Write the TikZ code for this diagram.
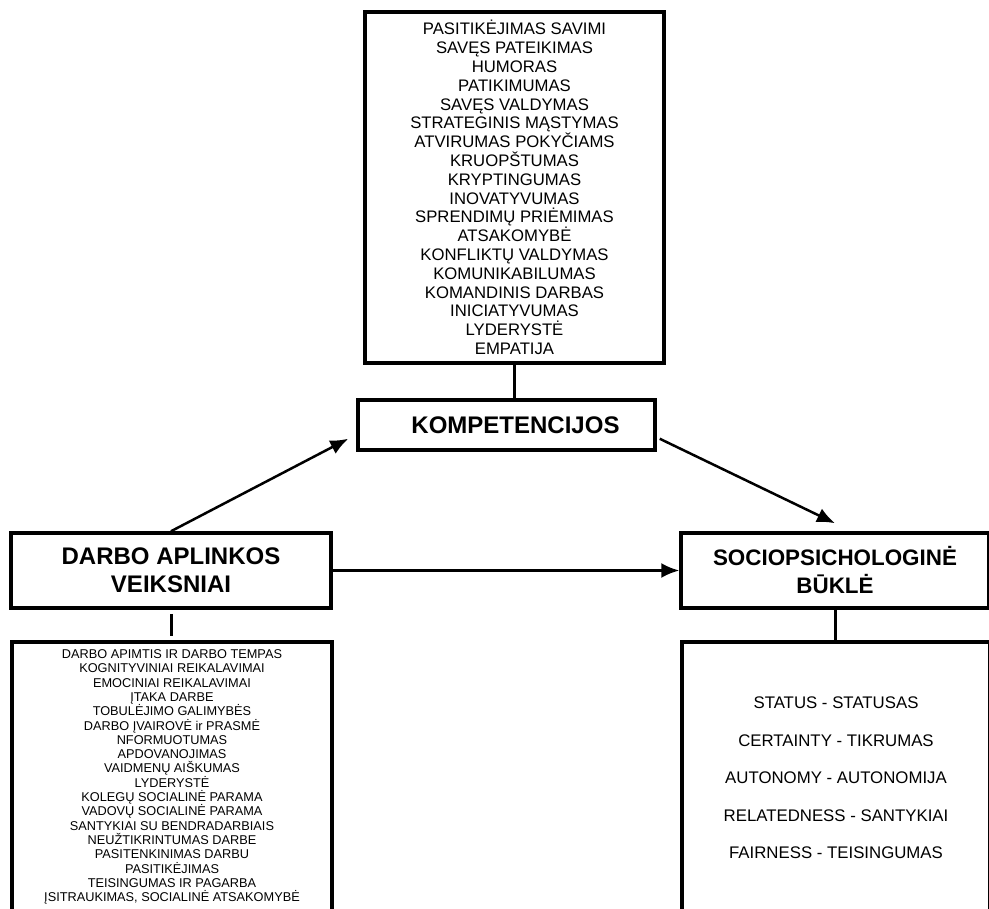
\documentclass[tikz,border=0pt]{standalone}
\usepackage{fontspec}
\setmainfont{Liberation Sans}
\usepackage{tikz}
\usetikzlibrary{arrows.meta}

\begin{document}
\begin{tikzpicture}[x=1pt,y=-1pt,
  box/.style={draw,line width=3.5pt,rectangle,inner sep=0pt,align=center},
  head/.style={box,font=\bfseries\fontsize{24}{28}\selectfont},
  arr/.style={line width=2.5pt,-{Latex[length=18pt,width=15pt]}}]
\useasboundingbox (0,0) rectangle (989,909);
\clip (0,0) rectangle (989,909);
\node[box,minimum width=299pt,minimum height=351pt,font=\fontsize{16.7}{18.8}\selectfont] (kompsar) at (514.5,187.5)
  {PASITIKĖJIMAS SAVIMI\\SAVĘS PATEIKIMAS\\HUMORAS\\PATIKIMUMAS\\SAVĘS VALDYMAS\\STRATEGINIS MĄSTYMAS\\
   ATVIRUMAS POKYČIAMS\\KRUOPŠTUMAS\\KRYPTINGUMAS\\INOVATYVUMAS\\SPRENDIMŲ PRIĖMIMAS\\ATSAKOMYBĖ\\
   KONFLIKTŲ VALDYMAS\\KOMUNIKABILUMAS\\KOMANDINIS DARBAS\\INICIATYVUMAS\\LYDERYSTĖ\\EMPATIJA};
\node[head,minimum width=297pt,minimum height=50pt] (komp) at (506.5,425) {\hspace*{18pt}KOMPETENCIJOS};
\node[head,minimum width=320pt,minimum height=75pt] (darbo) at (171,570.5) {DARBO APLINKOS\\VEIKSNIAI};
\node[head,minimum width=308pt,minimum height=75pt,font=\bfseries\fontsize{22.4}{28}\selectfont] (socio) at (835,570.5) {SOCIOPSICHOLOGINĖ\\BŪKLĖ};
\node[box,minimum width=320pt,minimum height=270pt,font=\fontsize{12.75}{14.3}\selectfont] (darbolist) at (172,777)
  {DARBO APIMTIS IR DARBO TEMPAS\\KOGNITYVINIAI REIKALAVIMAI\\EMOCINIAI REIKALAVIMAI\\ĮTAKA DARBE\\
   TOBULĖJIMO GALIMYBĖS\\DARBO ĮVAIROVĖ ir PRASMĖ\\NFORMUOTUMAS\\APDOVANOJIMAS\\VAIDMENŲ AIŠKUMAS\\
   LYDERYSTĖ\\KOLEGŲ SOCIALINĖ PARAMA\\VADOVŲ SOCIALINĖ PARAMA\\SANTYKIAI SU BENDRADARBIAIS\\
   NEUŽTIKRINTUMAS DARBE\\PASITENKINIMAS DARBU\\PASITIKĖJIMAS\\TEISINGUMAS IR PAGARBA\\
   ĮSITRAUKIMAS, SOCIALINĖ ATSAKOMYBĖ};
\node[box,minimum width=308pt,minimum height=272pt,font=\fontsize{16.8}{37.5}\selectfont] (sociolist) at (836,778)
  {STATUS - STATUSAS\\CERTAINTY - TIKRUMAS\\AUTONOMY - AUTONOMIJA\\RELATEDNESS - SANTYKIAI\\FAIRNESS - TEISINGUMAS};
\draw[line width=3pt] (kompsar.south) -- (kompsar.south |- komp.north);
\draw[line width=3pt,shorten <=4pt,shorten >=4pt] (darbo.south) -- (darbo.south |- darbolist.north);
\draw[line width=3pt] (socio.south) -- (socio.south |- sociolist.north);
\draw[arr] (darbo.north) -- ([xshift=-8pt,yshift=13pt]komp.south west);
\draw[arr] ([xshift=3pt,yshift=13pt]komp.south east) -- ([yshift=8pt]socio.north);
\draw[arr] (darbo.east) -- (socio.west);
\end{tikzpicture}
\end{document}
